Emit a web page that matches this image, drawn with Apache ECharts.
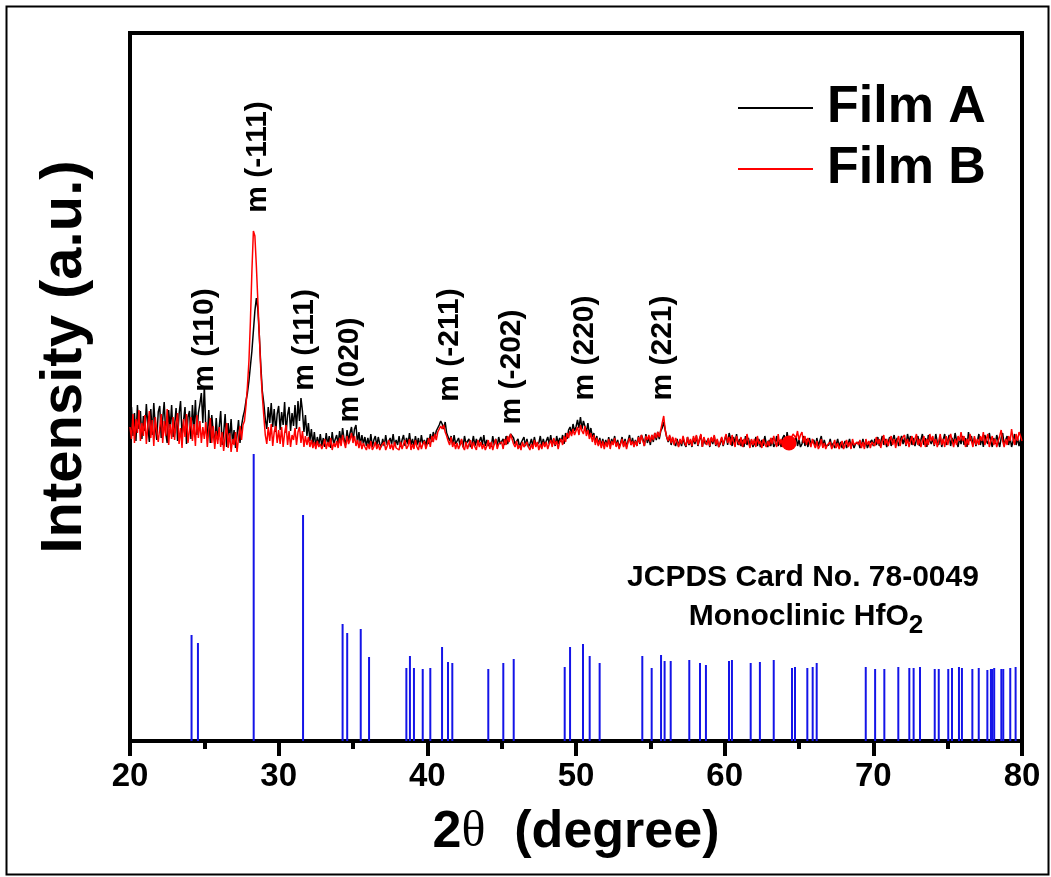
<!DOCTYPE html>
<html>
<head>
<meta charset="utf-8">
<script src="https://cdn.jsdelivr.net/npm/echarts@6/dist/echarts.min.js"></script>
<style>
  html, body { margin: 0; padding: 0; background: #fff; }
  #xrd { width: 1051px; height: 877px; }
</style>
</head>
<body>
<div id="xrd"></div>
<script>
// scan grid (2theta, degree)
const scanStart = 20;
const scanStep = 0.1;

// Film A (black), intensity a.u., one value per 0.1 deg from 20 to 80
const filmA = [
  318, 334, 305, 328, 300, 336, 312, 330, 302, 325,
  310, 337, 315, 299, 332, 306, 338, 314, 301, 329,
  335, 303, 322, 339, 308, 298, 331, 313, 336, 304,
  316, 333, 300, 327, 340, 305, 320, 334, 297, 324,
  330, 302, 336, 311, 341, 306, 328, 337, 348, 318,
  355, 312, 303, 331, 298, 326, 309, 297, 323, 301,
  314, 330, 296, 308, 327, 294, 318, 301, 322, 297,
  311, 293, 306, 321, 298, 315, 324, 330, 340, 348,
  360, 375, 390, 410, 430, 443, 432, 405, 375, 350,
  338, 322, 312, 334, 318, 338, 314, 332, 309, 327,
  335, 311, 329, 316, 339, 308, 326, 334, 310, 328,
  315, 336, 312, 340, 320, 343, 330, 309, 326, 305,
  318, 300, 312, 296, 309, 294, 304, 296, 307, 295,
  303, 294, 308, 296, 305, 293, 309, 297, 295, 306,
  297, 310, 299, 313, 302, 296, 311, 300, 308, 314,
  300, 312, 316, 298, 309, 296, 306, 297, 304, 295,
  303, 295, 307, 294, 301, 305, 295, 304, 297, 294,
  302, 295, 306, 296, 294, 303, 297, 307, 295, 301,
  296, 305, 294, 301, 306, 295, 303, 297, 308, 296,
  302, 295, 305, 296, 303, 294, 306, 297, 301, 295,
  303, 297, 307, 299, 309, 303, 310, 313, 316, 320,
  317, 312, 319, 308, 304, 300, 305, 296, 306, 297,
  295, 303, 296, 301, 294, 305, 297, 295, 302, 294,
  297, 305, 295, 302, 296, 294, 304, 296, 306, 295,
  301, 295, 298, 294, 305, 296, 302, 295, 304, 297,
  295, 302, 296, 305, 297, 303, 307, 309, 303, 297,
  295, 302, 294, 298, 296, 304, 295, 302, 294, 297,
  302, 295, 304, 296, 294, 298, 305, 295, 302, 296,
  295, 304, 297, 306, 296, 302, 295, 305, 297, 303,
  299, 306, 297, 308, 302, 311, 314, 307, 317, 310,
  314, 321, 313, 324, 312, 320, 322, 309, 318, 306,
  313, 304, 308, 298, 305, 296, 303, 295, 302, 295,
  301, 295, 304, 295, 302, 297, 305, 295, 301, 294,
  298, 304, 295, 302, 294, 300, 306, 296, 303, 295,
  301, 295, 305, 297, 306, 302, 295, 307, 298, 304,
  296, 306, 299, 308, 301, 309, 302, 310, 313, 319,
  311, 304, 299, 305, 296, 303, 298, 295, 302, 295,
  301, 295, 303, 297, 294, 304, 296, 301, 294, 303,
  297, 305, 295, 301, 306, 294, 303, 297, 295, 302,
  294, 303, 297, 305, 295, 301, 294, 297, 303, 295,
  301, 306, 296, 308, 302, 295, 304, 298, 307, 296,
  302, 295, 301, 294, 305, 296, 303, 295, 301, 294,
  297, 304, 295, 302, 294, 301, 295, 305, 297, 294,
  301, 295, 303, 294, 297, 305, 295, 301, 294, 303,
  306, 296, 309, 299, 295, 303, 294, 297, 305, 295,
  301, 294, 297, 305, 295, 302, 294, 303, 297, 295,
  301, 294, 303, 295, 297, 305, 294, 301, 295, 293,
  296, 302, 294, 298, 293, 296, 302, 294, 299, 293,
  295, 300, 293, 297, 302, 294, 299, 293, 297, 295,
  299, 293, 296, 302, 294, 300, 293, 297, 295, 301,
  295, 302, 296, 304, 295, 299, 305, 296, 302, 294,
  299, 304, 295, 301, 306, 297, 303, 295, 300, 305,
  297, 303, 295, 307, 299, 305, 296, 303, 295, 301,
  305, 295, 301, 307, 296, 303, 294, 306, 300, 297,
  303, 295, 307, 299, 296, 305, 294, 301, 307, 296,
  300, 306, 295, 303, 297, 308, 300, 294, 303, 297,
  305, 296, 303, 294, 309, 300, 305, 296, 303, 295,
  300, 307, 296, 303, 294, 306, 300, 297, 308, 300,
  294, 303, 297, 306, 300, 294, 303, 308, 296, 301,
  305, 296, 303, 294, 300, 307, 296, 303, 295, 301,
  297
];

// Film B (red)
const filmB = [
  314, 302, 327, 298, 322, 308, 331, 300, 318, 305,
  326, 297, 315, 330, 303, 321, 295, 324, 310, 299,
  313, 327, 298, 320, 305, 332, 296, 317, 302, 324,
  301, 318, 328, 297, 313, 293, 322, 304, 327, 298,
  311, 324, 300, 317, 295, 326, 303, 320, 298, 314,
  302, 319, 294, 311, 323, 298, 315, 292, 310, 297,
  314, 294, 309, 290, 305, 318, 293, 308, 289, 302,
  296, 309, 289, 303, 315, 301, 316, 320, 335, 355,
  380, 420, 470, 510, 505, 475, 440, 405, 370, 345,
  325, 306, 297, 314, 300, 317, 295, 309, 315, 298,
  311, 297, 314, 294, 308, 316, 296, 310, 294, 306,
  301, 313, 296, 309, 314, 298, 310, 294, 305, 296,
  304, 294, 301, 293, 299, 292, 300, 294, 297, 292,
  296, 302, 292, 299, 294, 303, 291, 298, 294, 300,
  293, 303, 295, 306, 299, 293, 305, 297, 301, 308,
  298, 305, 295, 301, 293, 300, 292, 298, 294, 291,
  297, 292, 300, 291, 294, 299, 292, 297, 291, 295,
  293, 299, 291, 295, 301, 292, 297, 291, 299, 293,
  295, 291, 299, 292, 297, 301, 292, 295, 302, 291,
  297, 292, 301, 294, 291, 299, 292, 297, 300, 292,
  297, 303, 294, 305, 299, 307, 301, 309, 311, 315,
  312, 316, 309, 305, 300, 296, 304, 294, 299, 292,
  298, 292, 296, 302, 294, 291, 299, 292, 297, 301,
  292, 299, 294, 291, 301, 294, 299, 292, 297, 291,
  295, 301, 292, 299, 291, 297, 302, 292, 297, 295,
  299, 292, 302, 296, 305, 299, 307, 302, 297, 294,
  300, 292, 296, 291, 299, 294, 292, 299, 294, 291,
  297, 292, 301, 294, 299, 291, 297, 292, 299, 294,
  299, 292, 297, 301, 294, 303, 296, 300, 292, 299,
  302, 296, 305, 299, 308, 303, 310, 305, 312, 306,
  310, 314, 306, 316, 310, 307, 315, 305, 311, 302,
  308, 299, 306, 296, 303, 295, 301, 293, 300, 292,
  299, 294, 302, 292, 300, 296, 303, 294, 299, 292,
  297, 302, 294, 300, 292, 299, 303, 296, 300, 294,
  300, 295, 304, 298, 306, 300, 295, 305, 301, 306,
  299, 306, 301, 308, 303, 309, 304, 311, 318, 325,
  311, 304, 300, 306, 298, 304, 296, 303, 299, 294,
  302, 297, 305, 299, 295, 304, 297, 302, 295, 305,
  299, 306, 296, 302, 307, 294, 304, 299, 296, 303,
  295, 304, 299, 306, 296, 302, 294, 299, 304, 296,
  302, 307, 298, 304, 296, 306, 299, 294, 305, 299,
  296, 304, 294, 302, 297, 307, 299, 293, 302, 296,
  302, 294, 305, 297, 300, 293, 302, 297, 294, 300,
  295, 303, 297, 305, 299, 294, 307, 296, 302, 294,
  300, 304, 296, 294, 300, 302, 307, 309, 303, 310,
  301, 306, 309, 298, 305, 296, 303, 299, 294, 302,
  297, 293, 300, 292, 295, 302, 293, 298, 292, 296,
  294, 299, 292, 296, 301, 293, 298, 292, 296, 300,
  292, 296, 301, 294, 299, 292, 302, 296, 294, 299,
  296, 301, 293, 299, 292, 302, 296, 300, 293, 299,
  301, 295, 304, 297, 302, 293, 300, 306, 296, 302,
  295, 301, 305, 296, 302, 293, 300, 305, 295, 302,
  300, 306, 296, 302, 294, 300, 305, 296, 302, 307,
  296, 302, 294, 300, 305, 294, 302, 296, 307, 300,
  305, 296, 302, 294, 300, 307, 296, 302, 294, 305,
  296, 302, 307, 300, 294, 302, 296, 305, 300, 309,
  300, 305, 294, 302, 296, 307, 300, 294, 305, 296,
  302, 296, 305, 300, 309, 296, 302, 307, 294, 300,
  305, 296, 302, 294, 300, 305, 311, 300, 294, 302,
  296, 305, 300, 312, 302, 296, 307, 300, 309, 305,
  300
];

// JCPDS 78-0049 reference lines
const refPos = [
  24.14, 24.57, 28.32, 31.64, 34.30, 34.61, 35.52, 36.08, 38.59, 38.83,
  39.10, 39.69, 40.20, 40.99, 41.39, 41.68, 44.10, 45.11, 45.81, 49.24,
  49.60, 50.47, 50.92, 51.59, 54.46, 55.09, 55.72, 55.96, 56.37, 57.62,
  58.34, 58.74, 60.29, 60.49, 61.75, 62.37, 63.30, 64.53, 64.73, 65.56,
  65.92, 66.19, 69.49, 70.12, 70.74, 71.68, 72.42, 72.71, 73.14, 74.13,
  74.40, 75.04, 75.29, 75.76, 75.96, 76.66, 77.09, 77.67, 77.91, 78.00,
  78.13, 78.61, 78.74, 79.21, 79.57
];
const refInt = [
  106, 98, 287, 226, 117, 108, 112, 84, 73, 85,
  73, 72, 73, 94, 79, 78, 72, 78, 82, 74,
  94, 97, 85, 78, 85, 73, 86, 80, 80, 81,
  78, 76, 80, 81, 78, 79, 81, 73, 74, 73,
  74, 78, 74, 72, 72, 74, 73, 73, 74, 72,
  72, 72, 73, 74, 73, 72, 73, 71, 72, 72,
  73, 72, 72, 73, 74
];

// peak labels
const peakNames = ['m (110)', 'm (-111)', 'm (111)', 'm (020)', 'm (-211)', 'm (-202)', 'm (220)', 'm (221)'];
const peakPos = [25.04, 28.61, 31.77, 34.80, 41.52, 45.69, 50.60, 55.85];
const peakLabelY = [401, 584, 401, 371, 396, 374, 393, 393];

// red dot on film B trace
const dotPoint = [[64.33, 298]];

const twoTheta = filmA.map((_, i) => +(scanStart + i * scanStep).toFixed(1));

const chart = echarts.init(document.getElementById('xrd'));
const font = 'Liberation Sans, Arial, sans-serif';

chart.setOption({
  animation: false,
  backgroundColor: '#fff',
  grid: {
    left: 130, right: 29, top: 33, bottom: 136,
    show: true, borderColor: '#000', borderWidth: 4
  },
  legend: {
    data: ['Film A', 'Film B'],
    orient: 'vertical',
    left: 733, top: 75,
    itemWidth: 75, itemHeight: 2, itemGap: 5,
    icon: 'rect',
    textStyle: { fontFamily: font, fontWeight: 'bold', fontSize: 52, color: '#000', lineHeight: 56, padding: [0, 0, 0, 9] }
  },
  xAxis: {
    type: 'value', min: 20, max: 80, interval: 10,
    name: '{b|2}{t|θ}{b|  (degree)}',
    nameLocation: 'middle', nameGap: 66,
    nameTextStyle: {
      rich: {
        b: { fontFamily: font, fontWeight: 'bold', fontSize: 52, color: '#000' },
        t: { fontFamily: 'Liberation Serif, serif', fontSize: 50, color: '#000' }
      }
    },
    axisLine: { lineStyle: { color: '#000', width: 4 } },
    axisTick: { inside: false, length: 15, lineStyle: { color: '#000', width: 4 } },
    minorTick: { show: true, splitNumber: 2, length: 8, lineStyle: { color: '#000', width: 4 } },
    axisLabel: { fontFamily: font, fontWeight: 'bold', fontSize: 33, color: '#000', margin: 19 },
    splitLine: { show: false }
  },
  yAxis: {
    type: 'value', min: 0, max: 708,
    name: 'Intensity (a.u.)',
    nameLocation: 'middle', nameGap: 36,
    nameTextStyle: { fontFamily: font, fontWeight: 'bold', fontSize: 58, color: '#000', padding: [0, 0, 0, 60] },
    axisLine: { show: true, lineStyle: { color: '#000', width: 4 } },
    axisTick: { show: false },
    axisLabel: { show: false },
    splitLine: { show: false }
  },
  series: [
    {
      name: 'Film A', type: 'line', showSymbol: false,
      data: twoTheta.map((x, i) => [x, filmA[i]]),
      itemStyle: { color: '#000' },
      lineStyle: { color: '#000', width: 1.5 }
    },
    {
      name: 'Film B', type: 'line', showSymbol: false,
      data: twoTheta.map((x, i) => [x, filmB[i]]),
      itemStyle: { color: '#ff0000' },
      lineStyle: { color: '#ff0000', width: 1.5 }
    },
    {
      name: 'dot', type: 'scatter', symbolSize: 15, z: 10,
      data: dotPoint,
      itemStyle: { color: '#ff0000', opacity: 1 }
    },
    {
      name: 'JCPDS 78-0049', type: 'custom',
      data: refPos.map((x, i) => [x, refInt[i]]),
      encode: { x: 0, y: 1 },
      renderItem: function (params, api) {
        const top = api.coord([api.value(0), api.value(1)]);
        const base = api.coord([api.value(0), 0]);
        return {
          type: 'line',
          shape: { x1: base[0], y1: base[1], x2: top[0], y2: top[1] },
          style: { stroke: '#1414e8', lineWidth: 2 }
        };
      }
    },
    {
      name: 'peaks', type: 'scatter', symbolSize: 0,
      data: peakPos.map((x, i) => [x, peakLabelY[i], peakNames[i]]),
      itemStyle: { opacity: 1 },
      label: {
        show: true, position: 'inside', rotate: 90,
        formatter: p => p.data[2],
        fontFamily: font, fontWeight: 'bold', fontSize: 30, color: '#000', opacity: 1
      }
    }
  ],
  graphic: [
    {
      type: 'rect', left: 4, top: 4,
      shape: { width: 1042, height: 868 },
      style: { fill: 'none', stroke: '#000', lineWidth: 2 }
    },
    {
      type: 'text', x: 803, y: 578,
      style: {
        text: 'JCPDS Card No. 78-0049',
        fontFamily: font, fontWeight: 'bold', fontSize: 30, fill: '#000',
        align: 'center', verticalAlign: 'middle'
      }
    },
    {
      type: 'text', x: 806, y: 617,
      style: {
        text: '{a|Monoclinic HfO}{s|2}',
        align: 'center', verticalAlign: 'middle',
        rich: {
          a: { fontFamily: font, fontWeight: 'bold', fontSize: 30, fill: '#000' },
          s: { fontFamily: font, fontWeight: 'bold', fontSize: 26, fill: '#000', padding: [18, 0, 0, 0] }
        }
      }
    }
  ]
});
</script>
</body>
</html>
